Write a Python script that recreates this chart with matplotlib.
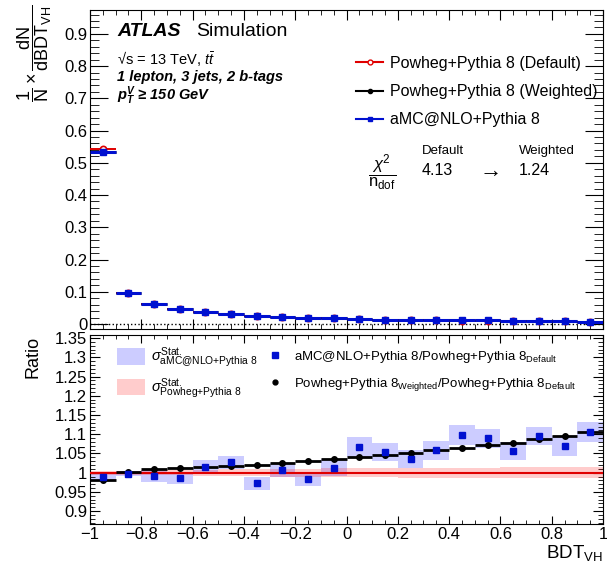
import numpy as np
import matplotlib
matplotlib.use('Agg')
import matplotlib.pyplot as plt
from matplotlib.lines import Line2D
from matplotlib.patches import Patch
from matplotlib.ticker import MultipleLocator, FuncFormatter

plt.rcParams['font.family'] = ['Liberation Sans', 'DejaVu Sans']
plt.rcParams['mathtext.fontset'] = 'custom'
plt.rcParams['mathtext.rm'] = 'Liberation Sans'
plt.rcParams['mathtext.it'] = 'Liberation Sans:italic'
plt.rcParams['mathtext.bf'] = 'Liberation Sans:bold:italic'

#################################
# BDT_VH bin centres (bin width 0.1)
bdt = [-0.95, -0.85, -0.75, -0.65, -0.55, -0.45, -0.35, -0.25, -0.15, -0.05,
       0.05, 0.15, 0.25, 0.35, 0.45, 0.55, 0.65, 0.75, 0.85, 0.95]
half_width = 0.05

# normalised distributions
default = [0.542, 0.096, 0.061, 0.046, 0.037, 0.031, 0.026, 0.022, 0.019, 0.017,
           0.0144, 0.0124, 0.0114, 0.0113, 0.0103, 0.0103, 0.0093, 0.0092, 0.0082, 0.0054]
weighted = [0.532, 0.096, 0.062, 0.046, 0.037, 0.031, 0.026, 0.022, 0.020, 0.017,
            0.015, 0.013, 0.012, 0.012, 0.011, 0.011, 0.010, 0.010, 0.009, 0.006]
amc = [0.534, 0.097, 0.062, 0.046, 0.037, 0.031, 0.026, 0.022, 0.020, 0.017,
       0.015, 0.013, 0.012, 0.012, 0.011, 0.011, 0.010, 0.010, 0.009, 0.006]

# ratios to Powheg+Pythia 8 (Default)
ratio_weighted = [0.981, 1.003, 1.009, 1.011, 1.015, 1.018, 1.021, 1.024, 1.031, 1.035,
                  1.042, 1.045, 1.050, 1.058, 1.064, 1.071, 1.076, 1.087, 1.095, 1.107]
ratio_amc = [0.990, 0.997, 0.992, 0.987, 1.016, 1.027, 0.972, 1.008, 0.984, 1.013,
             1.066, 1.054, 1.035, 1.058, 1.098, 1.089, 1.056, 1.095, 1.069, 1.105]
stat_amc = [0.010, 0.0065, 0.015, 0.016, 0.016, 0.017, 0.017, 0.018, 0.019, 0.022,
            0.026, 0.023, 0.023, 0.025, 0.026, 0.025, 0.024, 0.024, 0.026, 0.026]
stat_powheg = [0.005, 0.005, 0.006, 0.007, 0.008, 0.009, 0.009, 0.010, 0.010, 0.011,
               0.012, 0.012, 0.013, 0.013, 0.013, 0.013, 0.014, 0.014, 0.014, 0.015]

chi2_default = 4.13
chi2_weighted = 1.24
#################################

W, H = 607, 566
def fx(px):
    return px / W
def fy(py):
    return 1 - py / H

def fmt(v, pos):
    s = '%g' % round(v, 3)
    if s == '-0':
        s = '0'
    return s.replace('-', '\u2212')

red = '#e00000'
blue = '#0010d0'

fig = plt.figure(figsize=(6.07, 5.66), dpi=100)
ax1 = fig.add_axes([fx(90), fy(329), 513 / W, 319 / H])
ax2 = fig.add_axes([fx(90), fy(524), 513 / W, 189 / H])

# top panel
ax1.axhline(0, color='black', ls=':', lw=1, zorder=1)
ax1.errorbar(bdt, default, xerr=half_width, fmt='o', color=red, mfc='white', mec=red,
             mew=1.2, ms=4.5, lw=1.4, capsize=0, zorder=3)
ax1.errorbar(bdt, weighted, xerr=half_width, fmt='o', color='black', ms=4, lw=1.8,
             capsize=0, zorder=4)
ax1.errorbar(bdt, amc, xerr=half_width, fmt='s', color=blue, ms=4.5, lw=2.2,
             capsize=0, zorder=5)
ax1.set_xlim(-1, 1)
ax1.set_ylim(-0.0156, 0.974)
ax1.xaxis.set_major_locator(MultipleLocator(0.2))
ax1.xaxis.set_minor_locator(MultipleLocator(0.05))
ax1.yaxis.set_major_locator(MultipleLocator(0.1))
ax1.yaxis.set_minor_locator(MultipleLocator(0.02))
ax1.yaxis.set_major_formatter(FuncFormatter(fmt))
ax1.tick_params(which='both', direction='in', top=True, right=True, labelbottom=False)
ax1.tick_params(axis='y', which='major', length=13, labelsize=12, pad=2)
ax1.tick_params(axis='y', which='minor', length=6.5)
ax1.tick_params(axis='x', which='major', length=7)
ax1.tick_params(axis='x', which='minor', length=3.5)

fig.text(fx(35), fy(4), r'$\dfrac{1}{\mathrm{N}}\times\dfrac{\mathrm{dN}}{\mathrm{dBDT_{VH}}}$',
         rotation=90, ha='center', va='top', fontsize=13)

fig.text(fx(117), fy(36), 'ATLAS', fontsize=14, fontweight='bold', fontstyle='italic',
         va='baseline')
fig.text(fx(196), fy(36), 'Simulation', fontsize=14, va='baseline')
fig.text(fx(117), fy(64), '\u221as = 13 TeV, $t\\bar{t}$', fontsize=10.5,
         va='baseline')
fig.text(fx(117), fy(81), '1 lepton, 3 jets, 2 b-tags', fontsize=10.5, fontweight='bold',
         fontstyle='italic', va='baseline')
fig.text(fx(117), fy(100), '$\\mathbf{p_T^V}$ \u2265 150 GeV',
         fontsize=10.5, fontweight='bold', fontstyle='italic', va='baseline')

handles = [Line2D([], [], color=red, marker='o', mfc='white', mec=red, ms=3.5, lw=1.5),
           Line2D([], [], color='black', marker='o', ms=3, lw=1.5),
           Line2D([], [], color=blue, marker='s', ms=3, lw=1.5)]
labels = ['Powheg+Pythia 8 (Default)', 'Powheg+Pythia 8 (Weighted)', 'aMC@NLO+Pythia 8']
ax1.legend(handles, labels, loc='upper left', bbox_to_anchor=(fx(356), fy(56)),
           bbox_transform=fig.transFigure, frameon=False, fontsize=11.5,
           handlelength=1.7, handletextpad=0.4, labelspacing=0.82,
           borderpad=0, borderaxespad=0)

fig.text(fx(382), fy(172), r'$\dfrac{\chi^2}{\mathrm{n_{dof}}}$', fontsize=12,
         ha='center', va='center')
fig.text(fx(422), fy(151), 'Default', fontsize=9.5, va='center')
fig.text(fx(422), fy(171), '%.2f' % chi2_default, fontsize=11.5, va='center')
fig.text(fx(488), fy(171), r'$\rightarrow$', fontsize=16, ha='center', va='center')
fig.text(fx(519), fy(151), 'Weighted', fontsize=9.5, va='center')
fig.text(fx(519), fy(171), '%.2f' % chi2_weighted, fontsize=11.5, va='center')

# ratio panel
lo_amc = [r - e for r, e in zip(ratio_amc, stat_amc)]
lo_pow = [1 - e for e in stat_powheg]
ax2.bar(bdt, [2 * e for e in stat_amc], bottom=lo_amc, width=0.1, color='blue',
        alpha=0.2, lw=0, zorder=1)
ax2.bar(bdt, [2 * e for e in stat_powheg], bottom=lo_pow, width=0.1, color='red',
        alpha=0.2, lw=0, zorder=2)
ax2.axhline(1.0, color=red, lw=1.5, zorder=3)
ax2.errorbar(bdt, ratio_weighted, xerr=half_width, fmt='o', color='black', ms=4, lw=2,
             capsize=0, zorder=4)
ax2.plot(bdt, ratio_amc, ls='none', marker='s', color=blue, ms=5, zorder=5)
ax2.set_xlim(-1, 1)
ax2.set_ylim(0.8666, 1.358)
ax2.xaxis.set_major_locator(MultipleLocator(0.2))
ax2.xaxis.set_minor_locator(MultipleLocator(0.05))
ax2.xaxis.set_major_formatter(FuncFormatter(fmt))
ax2.yaxis.set_major_locator(MultipleLocator(0.05))
ax2.yaxis.set_minor_locator(MultipleLocator(0.01))
ax2.yaxis.set_major_formatter(FuncFormatter(fmt))
ax2.tick_params(which='both', direction='in', top=True, right=True)
ax2.tick_params(axis='y', which='major', length=7, labelsize=12, pad=2)
ax2.tick_params(axis='y', which='minor', length=3.5)
ax2.tick_params(axis='x', which='major', length=6, labelsize=12, pad=2)
ax2.tick_params(axis='x', which='minor', length=3)

fig.text(fx(33), fy(336), 'Ratio', rotation=90, ha='center', va='top', fontsize=13)
fig.text(fx(603), fy(558), r'BDT$_{\mathrm{VH}}$', ha='right', va='baseline', fontsize=13.5)

band_handles = [Patch(facecolor='blue', alpha=0.2, lw=0), Patch(facecolor='red', alpha=0.2, lw=0)]
band_labels = [r'$\sigma^{\mathrm{Stat.}}_{\mathrm{aMC@NLO{+}Pythia\ 8}}$',
               r'$\sigma^{\mathrm{Stat.}}_{\mathrm{Powheg{+}Pythia\ 8}}$']
leg1 = ax2.legend(band_handles, band_labels, loc='upper left', bbox_to_anchor=(fx(117), fy(346)),
                  bbox_transform=fig.transFigure, frameon=False, fontsize=10.5,
                  handlelength=1.9, handleheight=1.35, handletextpad=0.4, labelspacing=0.4,
                  borderpad=0, borderaxespad=0)
ax2.add_artist(leg1)
mk_handles = [Line2D([], [], ls='none', marker='s', color=blue, ms=4),
              Line2D([], [], ls='none', marker='o', color='black', ms=3.5)]
mk_labels = [r'aMC@NLO+Pythia 8/Powheg+Pythia 8$_{\mathrm{Default}}$',
             r'Powheg+Pythia 8$_{\mathrm{Weighted}}$/Powheg+Pythia 8$_{\mathrm{Default}}$']
ax2.legend(mk_handles, mk_labels, loc='upper left', bbox_to_anchor=(fx(268), fy(349)),
           bbox_transform=fig.transFigure, frameon=False, fontsize=9.5,
           handlelength=1.0, handletextpad=1.0, labelspacing=0.8,
           borderpad=0, borderaxespad=0)

fig.savefig('out.png', dpi=100)
